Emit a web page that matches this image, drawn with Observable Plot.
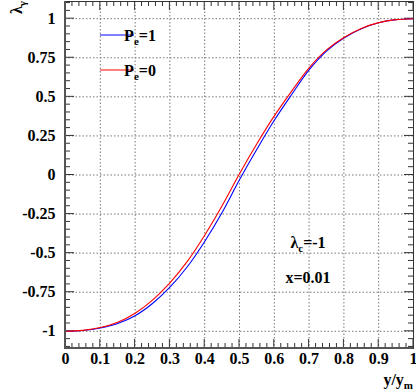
<!DOCTYPE html>
<html>
<head>
<meta charset="utf-8">
<script src="https://cdn.jsdelivr.net/npm/d3@7"></script>
<script src="https://cdn.jsdelivr.net/npm/@observablehq/plot@0.6"></script>
<style>
  html, body { margin: 0; padding: 0; background: white; }
  #chart { width: 416px; height: 392px; }
</style>
</head>
<body>
<div id="chart"></div>
<script>
// ---- data ----
const xValues = [0, 0.05, 0.1, 0.15, 0.2, 0.25, 0.3, 0.35, 0.4, 0.45, 0.5, 0.55, 0.6, 0.65, 0.7, 0.75, 0.8, 0.85, 0.9, 0.95, 1];
const lambdaPe1 = [-1, -0.995, -0.979, -0.950, -0.900, -0.822, -0.718, -0.587, -0.425, -0.240, -0.030, 0.165, 0.350, 0.515, 0.672, 0.792, 0.876, 0.936, 0.974, 0.994, 1.0];
const lambdaPe0 = [-1, -0.994, -0.976, -0.942, -0.884, -0.800, -0.690, -0.553, -0.385, -0.197, 0.008, 0.200, 0.378, 0.537, 0.685, 0.800, 0.880, 0.938, 0.975, 0.994, 1.0];
const seriesNames = ["Pe=1", "Pe=0"];
const seriesColors = ["#0000ff", "#ff0000"];
const xTicks = [0, 0.1, 0.2, 0.3, 0.4, 0.5, 0.6, 0.7, 0.8, 0.9, 1];
const xTickLabels = ["0", "0.1", "0.2", "0.3", "0.4", "0.5", "0.6", "0.7", "0.8", "0.9", "1"];
const yTicks = [-1, -0.75, -0.5, -0.25, 0, 0.25, 0.5, 0.75, 1];
const yTickLabels = ["-1", "-0.75", "-0.5", "-0.25", "0", "0.25", "0.5", "0.75", "1"];
const xMinor = d3.range(0, 1.0001, 0.02).map(v => +v.toFixed(2));
const yMinor = d3.range(-1.10, 1.1001, 0.05).map(v => +v.toFixed(2));

const rows0 = xValues.map((x, i) => ({x, y: lambdaPe0[i], s: seriesNames[1]}));
const rows1 = xValues.map((x, i) => ({x, y: lambdaPe1[i], s: seriesNames[0]}));

const W = 416, H = 392, ML = 65, MR = 3, MT = 1, MB = 44;
const font = "'Liberation Serif', 'Times New Roman', serif";
const isMajorX = v => xTicks.some(t => Math.abs(t - v) < 1e-9);
const isMajorY = v => yTicks.some(t => Math.abs(t - v) < 1e-9);

const chart = Plot.plot({
  width: W, height: H,
  marginLeft: ML, marginRight: MR, marginTop: MT, marginBottom: MB,
  style: {fontFamily: font, background: "white", color: "black"},
  x: {domain: [0, 1]},
  y: {domain: [-1.11, 1.11]},
  marks: [
    Plot.gridX(xTicks.slice(1, -1), {stroke: "#777", strokeOpacity: 1, strokeDasharray: "1.5,2"}),
    Plot.gridY(yTicks, {stroke: "#777", strokeOpacity: 1, strokeDasharray: "1.5,2"}),
    Plot.line(rows1, {x: "x", y: "y", stroke: seriesColors[0], strokeWidth: 1.1, curve: "catmull-rom"}),
    Plot.line(rows0, {x: "x", y: "y", stroke: seriesColors[1], strokeWidth: 1.1, curve: "catmull-rom"}),
    Plot.frame({stroke: "#333", strokeWidth: 1}),
    Plot.axisX({ticks: xTicks, tickSize: 0, tickPadding: 4, fontSize: 16, fontWeight: "bold",
      fontFamily: font, fill: "black", label: null, tickFormat: (d, i) => xTickLabels[i]}),
    Plot.axisY({ticks: yTicks, tickSize: 0, tickPadding: 10, fontSize: 16, fontWeight: "bold",
      fontFamily: font, fill: "black", label: null, tickFormat: (d, i) => yTickLabels[i]})
  ]
});
document.getElementById("chart").appendChild(chart);

const svg = d3.select(chart);
const sx = chart.scale("x"), sy = chart.scale("y");
// inward ticks on all four sides, placed through the plot's scales
const tg = svg.insert("g", "g[aria-label='line']").attr("stroke", "#333").attr("stroke-width", 1);
const x0 = ML, x1 = W - MR, y0 = MT, y1 = H - MB;
xMinor.forEach(v => {
  const px = sx.apply(v), len = isMajorX(v) ? 9 : 5;
  tg.append("line").attr("x1", px).attr("x2", px).attr("y1", y1).attr("y2", y1 - len);
  tg.append("line").attr("x1", px).attr("x2", px).attr("y1", y0).attr("y2", y0 + len);
});
yMinor.forEach(v => {
  const py = sy.apply(v), len = isMajorY(v) ? 9 : 5;
  tg.append("line").attr("x1", x0).attr("x2", x0 + len).attr("y1", py).attr("y2", py);
  tg.append("line").attr("x1", x1).attr("x2", x1 - len).attr("y1", py).attr("y2", py);
});
// heavier left & bottom axis lines
const ag = svg.append("g").attr("stroke", "#555").attr("stroke-width", 2);
ag.append("line").attr("x1", x0).attr("x2", x0).attr("y1", y0).attr("y2", y1 + 1);
ag.append("line").attr("x1", x0 - 1).attr("x2", x1).attr("y1", y1).attr("y2", y1);

// legend
const lg = svg.append("g").attr("font-family", font).attr("font-weight", "bold").attr("font-size", 16);
const legendY = [35, 70];
seriesNames.forEach((name, i) => {
  lg.append("line").attr("x1", 100).attr("x2", 134).attr("y1", legendY[i]).attr("y2", legendY[i])
    .attr("stroke", seriesColors[i]).attr("stroke-width", 1.2);
  const t = lg.append("text").attr("x", 140).attr("y", legendY[i] + 6);
  t.append("tspan").text("P");
  t.append("tspan").attr("font-size", 11).attr("dy", 4).text("e");
  t.append("tspan").attr("dy", -4).text(name.slice(2));
});

// annotations
const an = svg.append("g").attr("font-family", font).attr("font-weight", "bold").attr("font-size", 16);
const a1 = an.append("text").attr("x", 308).attr("y", 248);
a1.append("tspan").text("λ");
a1.append("tspan").attr("font-size", 11).attr("dy", 4).text("c");
a1.append("tspan").attr("dy", -4).text("=-1");
an.append("text").attr("x", 308).attr("y", 283).text("x=0.01");

// axis titles
const xt = an.append("text").attr("x", 413).attr("y", 385).attr("text-anchor", "end");
xt.append("tspan").text("y/y");
xt.append("tspan").attr("font-size", 11).attr("dy", 4).text("m");
const yt = an.append("text").attr("transform", "translate(22,1) rotate(-90)").attr("text-anchor", "end");
yt.append("tspan").text("λ");
yt.append("tspan").attr("font-size", 11).attr("dy", 4).text("γ");
</script>
</body>
</html>
